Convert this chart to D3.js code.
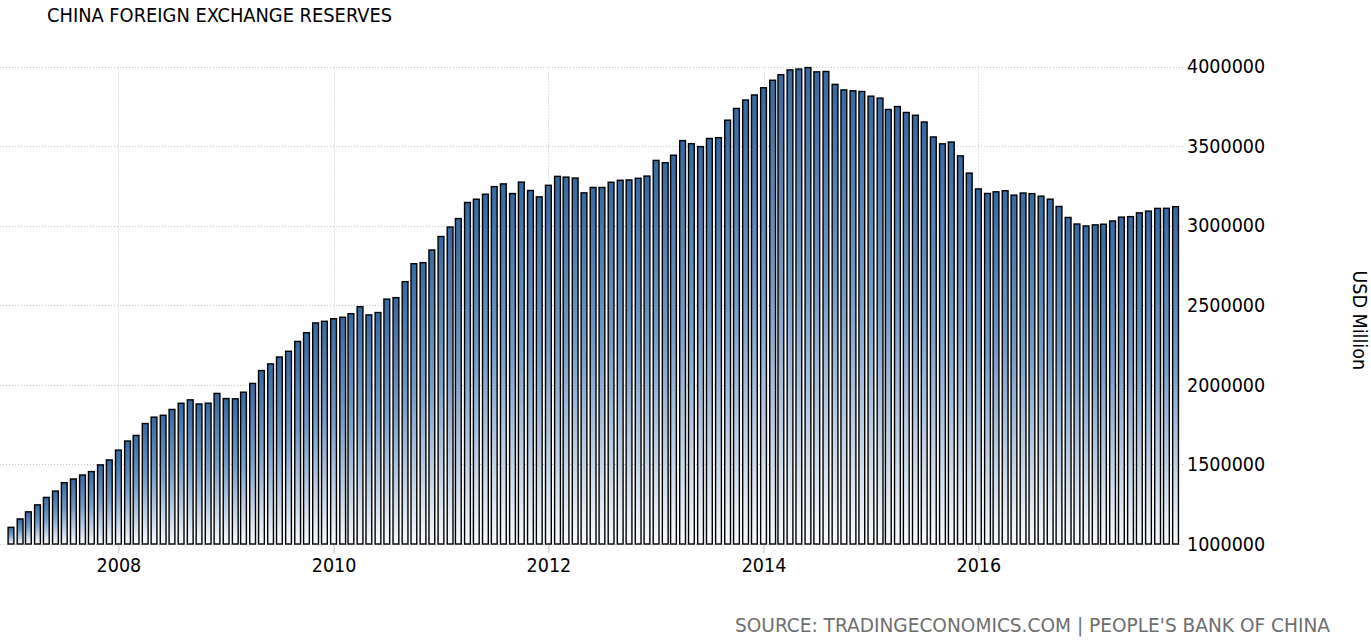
<!DOCTYPE html>
<html>
<head>
<meta charset="utf-8">
<title>China Foreign Exchange Reserves</title>
<script src="https://cdn.jsdelivr.net/npm/d3@7"></script>
<style>
  html, body { margin: 0; padding: 0; background: #fff; }
  svg { display: block; }
  text { font-family: "DejaVu Sans Condensed", "DejaVu Sans", sans-serif; }
</style>
</head>
<body>
<div id="chart"></div>
<script>
// monthly reserves, USD million (Jan..Dec; 2017 ends in Nov)
const reserves2007 = [1104700, 1157400, 1202000, 1246000, 1292700, 1332600, 1385200, 1408600, 1433600, 1454900, 1497000, 1528200];
const reserves2008 = [1589800, 1647100, 1682200, 1756700, 1797000, 1808800, 1845200, 1884200, 1905600, 1879700, 1884700, 1946000];
const reserves2009 = [1913500, 1912100, 1953700, 2008800, 2089500, 2131600, 2175000, 2210800, 2272600, 2327300, 2388800, 2399200];
const reserves2010 = [2415200, 2424600, 2447100, 2490500, 2439500, 2454300, 2538400, 2547800, 2648300, 2760900, 2767800, 2847300];
const reserves2011 = [2931700, 2991400, 3044700, 3145600, 3166200, 3197500, 3245300, 3262500, 3201700, 3273800, 3220900, 3181100];
const reserves2012 = [3253600, 3309700, 3305000, 3299300, 3206100, 3240000, 3240000, 3272700, 3285100, 3287400, 3297600, 3311600];
const reserves2013 = [3410000, 3395400, 3442600, 3534500, 3515100, 3496700, 3547800, 3553000, 3662700, 3736600, 3789400, 3821300];
const reserves2014 = [3866400, 3913700, 3948100, 3978800, 3983900, 3993200, 3966300, 3968800, 3887700, 3852900, 3847300, 3843000];
const reserves2015 = [3813400, 3801500, 3730000, 3748100, 3711100, 3693800, 3651300, 3557400, 3514100, 3525500, 3438300, 3330400];
const reserves2016 = [3230900, 3202300, 3212600, 3219700, 3191700, 3205200, 3201100, 3185200, 3166400, 3120700, 3051600, 3010500];
const reserves2017 = [2998200, 3005100, 3009100, 3029500, 3053600, 3056800, 3080700, 3091500, 3108500, 3109200, 3119300];

const years = [2007, 2008, 2009, 2010, 2011, 2012, 2013, 2014, 2015, 2016, 2017];
const yearlySeries = [reserves2007, reserves2008, reserves2009, reserves2010, reserves2011, reserves2012,
  reserves2013, reserves2014, reserves2015, reserves2016, reserves2017];

const yTicks = [1000000, 1500000, 2000000, 2500000, 3000000, 3500000, 4000000];
const xTickYears = [2008, 2010, 2012, 2014, 2016];

const titleText = "CHINA FOREIGN EXCHANGE RESERVES";
const unitText = "USD Million";
const sourceText = "SOURCE: TRADINGECONOMICS.COM | PEOPLE'S BANK OF CHINA";

const data = [];
years.forEach((year, i) => {
  yearlySeries[i].forEach((value, month) => {
    data.push({ date: new Date(year, month, 1), value });
  });
});

const width = 1371;
const height = 643;
const plot = { left: 0, right: 1184, top: 66.5, bottom: 544 };
const labelFont = "\"DejaVu Sans Condensed\", \"DejaVu Sans\", sans-serif";

const svg = d3.select("#chart")
  .append("svg")
  .attr("width", width)
  .attr("height", height)
  .attr("viewBox", `0 0 ${width} ${height}`);

// each bar fades from steel blue at its top to near white at its base
const grad = svg.append("defs").append("linearGradient")
  .attr("id", "barFill")
  .attr("x1", 0).attr("y1", 0)
  .attr("x2", 0).attr("y2", 1);
grad.append("stop").attr("offset", "0%").attr("stop-color", "#3868a1");
grad.append("stop").attr("offset", "45%").attr("stop-color", "#769bc5");
grad.append("stop").attr("offset", "100%").attr("stop-color", "#f8fafd");

const x = d3.scaleTime()
  .domain([new Date(2007, 0, 1), new Date(2018, 0, 1)])
  .range([11, 1193.5]);

const y = d3.scaleLinear()
  .domain([1000000, 4000000])
  .range([plot.bottom, plot.top]);

// horizontal grid
svg.append("g")
  .attr("class", "grid grid--y")
  .selectAll("line")
  .data(yTicks)
  .join("line")
  .attr("x1", plot.left)
  .attr("x2", plot.right)
  .attr("y1", (d) => Math.round(y(d)) + 0.5)
  .attr("y2", (d) => Math.round(y(d)) + 0.5)
  .attr("stroke", "#c4c4c4")
  .attr("stroke-width", 1)
  .attr("stroke-dasharray", "1 2");

// vertical grid at even years
const xTickDates = xTickYears.map((yr) => new Date(yr, 0, 1));
svg.append("g")
  .attr("class", "grid grid--x")
  .selectAll("line")
  .data(xTickDates)
  .join("line")
  .attr("x1", (d) => Math.round(x(d)) + 0.5)
  .attr("x2", (d) => Math.round(x(d)) + 0.5)
  .attr("y1", plot.top)
  .attr("y2", plot.bottom)
  .attr("stroke", "#c4c4c4")
  .attr("stroke-width", 1)
  .attr("stroke-dasharray", "1 2");

// bars
const barWidth = 5.8;
svg.append("g")
  .attr("class", "bars")
  .selectAll("rect")
  .data(data)
  .join("rect")
  .attr("x", (d) => x(d.date) - barWidth / 2)
  .attr("y", (d) => y(d.value))
  .attr("width", barWidth)
  .attr("height", (d) => y(y.domain()[0]) - y(d.value))
  .attr("fill", "url(#barFill)")
  .attr("stroke", "#000")
  .attr("stroke-width", 1.4);

// x axis
const xAxis = d3.axisBottom(x)
  .tickValues(xTickDates)
  .tickFormat(d3.timeFormat("%Y"))
  .tickSize(8)
  .tickPadding(5);

svg.append("g")
  .attr("class", "axis axis--x")
  .attr("transform", `translate(0, ${plot.bottom + 1})`)
  .call(xAxis)
  .call((g) => g.select(".domain").remove())
  .call((g) => g.selectAll("line").attr("stroke", "#c4c4c4"))
  .call((g) => g.selectAll("text")
    .attr("fill", "#000")
    .attr("font-size", "19.5px")
    .style("font-family", labelFont));

// y axis on the right
const yAxis = d3.axisRight(y)
  .tickValues(yTicks)
  .tickFormat(d3.format("d"))
  .tickSize(0)
  .tickPadding(0);

svg.append("g")
  .attr("class", "axis axis--y")
  .attr("transform", "translate(1187, 0)")
  .call(yAxis)
  .call((g) => g.select(".domain").remove())
  .call((g) => g.selectAll("text")
    .attr("fill", "#000")
    .attr("font-size", "19.5px")
    .style("font-family", labelFont));

// unit label
svg.append("text")
  .attr("transform", `translate(1353, ${(plot.top + plot.bottom) / 2 + 15}) rotate(90)`)
  .attr("text-anchor", "middle")
  .attr("fill", "#000")
  .attr("font-size", "19.5px")
  .text(unitText);

// title
svg.append("text")
  .attr("x", 47)
  .attr("y", 22)
  .attr("fill", "#000")
  .attr("font-size", "19.5px")
  .attr("textLength", 345)
  .attr("lengthAdjust", "spacingAndGlyphs")
  .text(titleText);

// source
svg.append("text")
  .attr("x", 735)
  .attr("y", 632)
  .attr("fill", "#6e6e6e")
  .attr("font-size", "19.5px")
  .attr("textLength", 595)
  .attr("lengthAdjust", "spacingAndGlyphs")
  .text(sourceText);
</script>
</body>
</html>
